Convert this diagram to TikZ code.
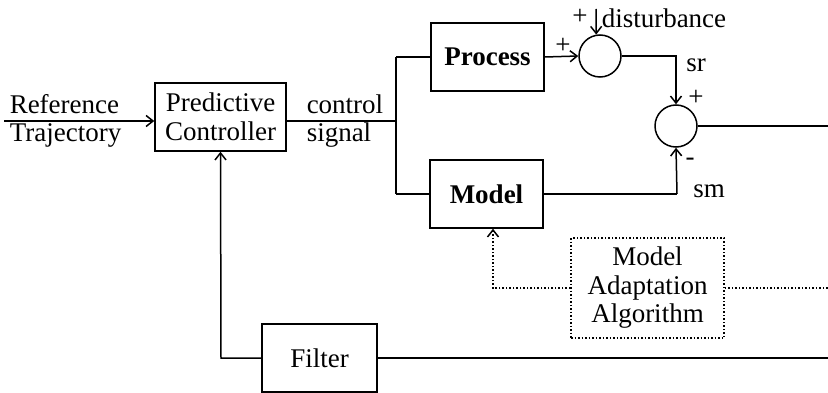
\documentclass[tikz,border=0pt]{standalone}
\usepackage{fontspec}
\setmainfont{Liberation Serif}
\usetikzlibrary{arrows.meta}
\begin{document}
\begin{tikzpicture}[x=1pt,y=-1pt,
  font=\fontsize{27}{28.5}\selectfont,
  line width=1.5pt,
  arr/.style={-{Straight Barb[length=7pt,width=11pt,line width=1.5pt]}},
  blk/.style={draw,rectangle,inner sep=0pt,align=center},
  sumc/.style={draw,circle,minimum size=42pt,inner sep=0pt},
  lbl/.style={inner sep=0pt}]
\useasboundingbox (0,0) rectangle (828,393);
\fill[white] (0,0) rectangle (828,393);
% blocks
\node[blk,minimum width=131pt,minimum height=68pt] (ctrl) at (220.5,117) {Predictive\\Controller};
\node[blk,minimum width=113pt,minimum height=68pt,font=\fontsize{27}{28.5}\selectfont\bfseries] (proc) at (487.5,57) {Process};
\node[blk,minimum width=113pt,minimum height=68pt,font=\fontsize{27}{28.5}\selectfont\bfseries] (model) at (486.5,194) {Model};
\node[blk,dotted,minimum width=153pt,minimum height=100pt,line width=1.5pt] (maa) at (647.5,288) {Model\\Adaptation\\Algorithm};
\node[blk,minimum width=115pt,minimum height=68pt] (filt) at (319.5,358) {Filter};
\node[sumc] (s1) at (600,56) {};
\node[sumc] (s2) at (676,126) {};
% coordinates
\coordinate (refin) at (4,121);
\coordinate (split) at (396,121);
\coordinate (dist) at (596,9);
\coordinate (c1) at (676,56);
\coordinate (c2) at (677,193);
\coordinate (outA) at (828,126);
\coordinate (outB) at (828,288);
\coordinate (outC) at (828,358);
\coordinate (dd) at (493,288);
\coordinate (fb) at (221,358);
% connectors
\draw[arr] (refin) -- (refin -| ctrl.west);
\draw (refin -| ctrl.east) -- (split);
\draw (split |- proc.west) -- (split |- model.west);
\draw (split |- proc.west) -- (proc.west);
\draw (split |- model.west) -- (model.west);
\draw[arr] (proc.east) -- (s1.west);
\draw[arr] (dist) -- (s1.100);
\draw[arr] (s1.east) -- (c1) -- (s2.north);
\draw (s2.east) -- (outA);
\draw[arr] (model.east -| c2) -- (s2.south);
\draw (model.east) -- (model.east -| c2);
\draw[dotted,arr] (maa.west |- dd) -- (dd) -- (dd |- model.south);
\draw[dotted] (maa.east |- outB) -- (outB);
\draw (filt.east) -- (outC);
\draw[arr] (filt.west) -- (fb) -- (ctrl.south);
% labels
\node[lbl,align=left,anchor=west] at (9,121) {Reference\\Trajectory};
\node[lbl,align=left,anchor=west] at (306,121) {control\\signal};
\node[lbl] at (563,46) {+};
\node[lbl] at (580,17) {+};
\node[lbl,anchor=west] at (601,18) {disturbance};
\node[lbl] at (696,65) {sr};
\node[lbl] at (696,98) {+};
\node[lbl] at (690,162) {-};
\node[lbl] at (709,191) {sm};
\end{tikzpicture}
\end{document}
